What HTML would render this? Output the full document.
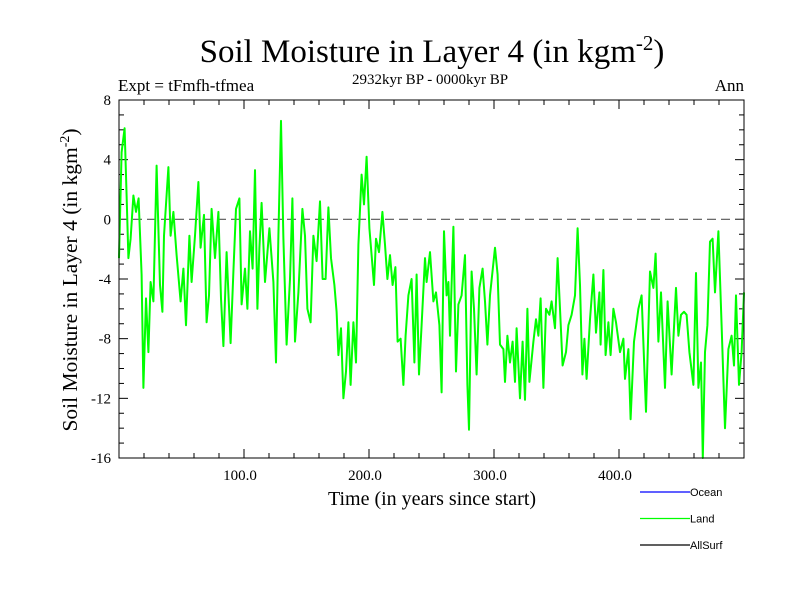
<!DOCTYPE html>
<html><head><meta charset="utf-8"><style>
body{margin:0;background:#fff;}
svg{display:block;}
</style></head><body>
<svg id="chart" width="800" height="600" xmlns="http://www.w3.org/2000/svg">
<rect width="800" height="600" fill="#fff"/>
<text x="432" y="62" font-family="Liberation Serif, serif" font-size="33" text-anchor="middle">Soil Moisture in Layer 4 (in kgm<tspan dy="-12" font-size="21">-2</tspan><tspan dy="12">)</tspan></text>
<text x="118" y="91" font-family="Liberation Serif, serif" font-size="17">Expt = tFmfh-tfmea</text>
<text x="430" y="84" font-family="Liberation Serif, serif" font-size="15" text-anchor="middle">2932kyr BP - 0000kyr BP</text>
<text x="744" y="91" font-family="Liberation Serif, serif" font-size="17" text-anchor="end">Ann</text>
<g id="axes"></g>
<g id="plot"></g>
<rect x="119" y="100" width="625" height="358" fill="none" stroke="#000" stroke-width="1"/>
<text x="432" y="505" font-family="Liberation Serif, serif" font-size="20" text-anchor="middle">Time (in years since start)</text>
<text transform="translate(77,280) rotate(-90)" font-family="Liberation Serif, serif" font-size="21.5" text-anchor="middle">Soil Moisture in Layer 4 (in kgm<tspan dy="-8" font-size="14">-2</tspan><tspan dy="8">)</tspan></text>
<g id="legend"></g>
</svg>
<script>
const years=[0,2.1,4.5,6.1,7.5,9.3,11.5,13.6,15.7,18.1,19.5,21.6,23.5,25.3,27.5,30.1,32.8,34.7,36,39.5,41.3,43.5,46.1,49.3,51.5,53.6,56.3,58.1,60.8,63.5,65.3,68,70.1,72,74.1,76.8,79.5,81.6,83.5,86.1,89.3,91.5,93.6,96.3,98.1,100.8,102.7,104.8,106.9,108.8,110.7,112.3,114.1,116.8,120.3,123.5,
125.6,127.5,129.6,131.5,134.1,136.8,138.7,140.8,143.5,146.7,148.8,150.7,153.3,155.5,158.1,160.8,162.9,165.3,167.5,169.6,172.3,174.1,175.5,177.6,179.5,181.6,183.5,185.3,187.5,189.6,191.5,194.1,196,198.1,200.3,202.1,204,205.6,208,210.7,212.8,214.7,216.8,218.9,221.1,222.9,225.3,227.5,229.3,231.5,234.1,236.3,238.1,240,242.1,244.8,246.1,248.8,251.5,253.6,256.3,
258.1,260,262.1,263.5,264.8,267.5,269.6,271.5,274.1,276.8,278.7,280,282.1,284,286.1,288.3,290.9,292.8,294.7,296.8,300.8,302.9,304.8,307.5,308.8,310.7,312.8,314.9,316.8,318.1,320.8,322.9,324.8,326.7,328.3,331.5,333.6,335.5,337.3,339.5,341.6,344.3,346.1,348.8,350.9,352.8,354.9,357.6,359.5,362.1,364.8,366.9,368.8,370.7,372.3,374.1,376.8,379.5,381.6,384.3,
385.3,387.5,389.3,391.5,393.3,395.5,397.6,400.8,403.5,404.8,407.5,409.3,412,415.5,418.1,421.6,424.8,427.5,429.3,431.5,433.6,436.8,438.9,442.1,445.6,447.5,449.6,452,454.1,456.3,459.5,461.6,463.5,465.6,467,468.8,470.7,472.8,474.9,476.8,479.5,482.1,484.8,487.5,490.1,492,493.6,496,498.1,500];
const landValues=[-2.6,4.5,6.1,1.6,-2.6,-1.3,1.6,0.5,1.4,-3.7,-11.3,-5.3,-8.9,-4.2,-5.5,3.6,-4.4,-6.2,-1.1,3.5,-1.1,0.5,-2.4,-5.5,-3.3,-7.1,-1.1,-4.2,-1.1,2.5,-1.9,0.3,-6.9,-5.1,0.7,-2.6,0.5,-5.3,-8.5,-2.2,-8.3,-3.5,0.7,1.4,-5.7,-3.3,-6.0,-0.8,-3.3,3.3,-6.0,-1.9,1.1,-4.2,-0.6,-4.2,
-9.6,-1.1,6.6,-1.3,-8.4,-4.0,1.4,-8.2,-4.9,0.7,-1.1,-6.0,-6.9,-1.1,-2.8,1.2,-4.0,-4.0,0.8,-2.6,-4.4,-6.2,-9.1,-7.3,-12.0,-10.2,-6.9,-11.1,-6.9,-9.6,-1.7,3.0,1.0,4.2,-0.6,-2.4,-4.4,-1.3,-2.2,0.5,-1.7,-4.0,-2.4,-4.4,-3.2,-8.2,-8.0,-11.1,-7.8,-5.1,-4.0,-9.6,-3.7,-10.4,-7.1,-2.6,-4.2,-2.2,-5.5,-4.9,-7.1,
-11.6,-0.8,-5.1,-4.2,-7.8,-0.5,-10.2,-5.7,-5.1,-2.4,-11.1,-14.1,-3.5,-6.0,-10.4,-4.6,-3.3,-5.5,-8.4,-5.1,-1.9,-3.7,-8.4,-8.7,-10.9,-7.8,-9.6,-8.2,-10.9,-7.3,-12.0,-8.2,-12.1,-6.0,-10.9,-8.2,-6.7,-7.8,-5.3,-11.3,-6.0,-6.4,-5.5,-7.3,-2.6,-6.0,-9.8,-8.9,-7.1,-6.4,-5.1,-0.6,-4.4,-10.4,-8.0,-10.7,-6.7,-3.7,-7.6,-4.9,
-8.4,-3.4,-9.1,-6.9,-9.1,-6.0,-6.9,-8.9,-8.0,-10.7,-8.7,-13.4,-8.2,-6.0,-5.1,-12.9,-3.5,-4.6,-2.3,-8.2,-4.9,-11.3,-5.5,-10.4,-4.6,-7.8,-6.4,-6.2,-6.4,-8.9,-11.1,-3.6,-11.3,-9.6,-16.0,-8.9,-7.1,-1.5,-1.3,-4.9,-0.8,-7.1,-14.0,-8.7,-7.8,-9.8,-5.1,-11.1,-8.9,-4.9];
const yTicks=[8,4,0,-4,-8,-12,-16];
const xTicks=[100,200,300,400];
const xTickLabels=["100.0","200.0","300.0","400.0"];
const legendNames=["Ocean","Land","AllSurf"];
const legendColors=["#0000ff","#00ff00","#000000"];

const NS="http://www.w3.org/2000/svg";
const L=119,R=744,T=100,B=458,X0=0,X1=500,Y0=-16,Y1=8;
function xs(v){return L+(v-X0)/(X1-X0)*(R-L);}
function ys(v){return B-(v-Y0)/(Y1-Y0)*(B-T);}
function mk(tag,attrs,parent){const e=document.createElementNS(NS,tag);for(const k in attrs)e.setAttribute(k,attrs[k]);parent.appendChild(e);return e;}
const axes=document.getElementById('axes');
for(let v=Y0;v<=Y1;v++){
  const major=(v%4===0);const len=major?9:5;const y=ys(v);
  const t1=mk('line',{x1:L,x2:L+len,y1:y,y2:y,stroke:'#000','stroke-width':1},axes);
  
  
  const t2=mk('line',{x1:R,x2:R-len,y1:y,y2:y,stroke:'#000','stroke-width':1},axes);
  
  
}
yTicks.forEach(v=>{
  const t=mk('text',{x:111,y:ys(v)+5,'font-family':'Liberation Serif, serif','font-size':15,'text-anchor':'end'},axes);
  t.textContent=String(v);
  
  
});
for(let v=20;v<X1;v+=20){
  const major=(v%100===0);const len=major?9:5;const x=xs(v);
  const t1=mk('line',{x1:x,x2:x,y1:B,y2:B-len,stroke:'#000','stroke-width':1},axes);
  
  
  const t2=mk('line',{x1:x,x2:x,y1:T,y2:T+len,stroke:'#000','stroke-width':1},axes);
  
  
}
xTicks.forEach((v,i)=>{
  const t=mk('text',{x:xs(v)-4,y:480,'font-family':'Liberation Serif, serif','font-size':15,'text-anchor':'middle'},axes);
  t.textContent=xTickLabels[i];
  
  
});
const plot=document.getElementById('plot');
const zl=mk('line',{x1:L,x2:R,y1:ys(0),y2:ys(0),stroke:'#555','stroke-width':1.2,'stroke-dasharray':'9,5'},plot);


const pts=years.map((t,i)=>xs(t).toFixed(1)+','+ys(landValues[i]).toFixed(1)).join(' ');
const pl=mk('polyline',{points:pts,fill:'none',stroke:'#00ff00','stroke-width':2,'stroke-linejoin':'round'},plot);


const leg=document.getElementById('legend');
legendNames.forEach((n,i)=>{
  const y=492+i*26.5;
  const ln=mk('line',{x1:640,x2:690,y1:y,y2:y,stroke:legendColors[i],'stroke-width':1.2},leg);
  
  
  const tx=mk('text',{x:690,y:y+4,'font-family':'Liberation Sans, sans-serif','font-size':11},leg);
  tx.textContent=n;
  
  
});
</script>
</body></html>
